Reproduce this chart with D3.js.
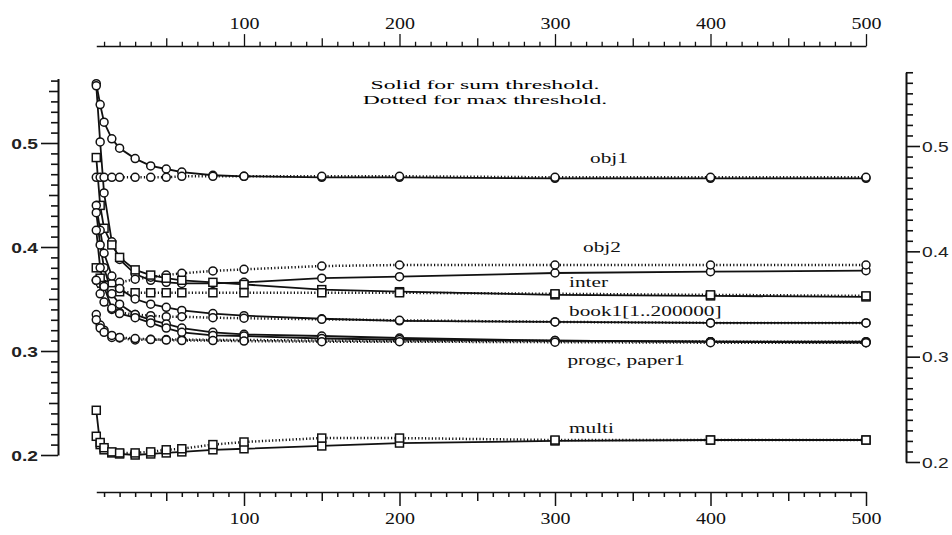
<!DOCTYPE html>
<html>
<head>
<meta charset="utf-8">
<script src="https://cdn.jsdelivr.net/npm/d3@7"></script>
<style>
  html, body { margin: 0; padding: 0; background: #fff; }
  svg { display: block; }
</style>
</head>
<body>
<svg id="chart" width="952" height="535"></svg>
<script>
// ---------------- data ----------------
const xValues = [5, 7.5, 10, 15, 20, 30, 40, 50, 60, 80, 100, 150, 200, 300, 400, 500];

const obj1Sum   = [0.557, 0.537, 0.520, 0.504, 0.495, 0.485, 0.478, 0.475, 0.472, 0.469, 0.468, 0.467, 0.467, 0.466, 0.466, 0.466];
const obj1Max   = [0.467, 0.467, 0.467, 0.467, 0.467, 0.467, 0.467, 0.467, 0.468, 0.468, 0.468, 0.468, 0.468, 0.467, 0.467, 0.467];
const obj2Sum   = [0.555, 0.501, 0.452, 0.405, 0.388, 0.374, 0.368, 0.366, 0.365, 0.365, 0.366, 0.370, 0.3715, 0.375, 0.3763, 0.3772];
const obj2Max   = [0.368, 0.365, 0.364, 0.365, 0.366, 0.369, 0.371, 0.373, 0.3747, 0.377, 0.3785, 0.3817, 0.3827, 0.3827, 0.3827, 0.3827];
const interSum  = [0.486, 0.440, 0.418, 0.402, 0.390, 0.378, 0.373, 0.370, 0.368, 0.366, 0.364, 0.359, 0.357, 0.354, 0.353, 0.352];
const interMax  = [0.380, 0.370, 0.363, 0.358, 0.357, 0.356, 0.356, 0.356, 0.356, 0.356, 0.356, 0.356, 0.356, 0.355, 0.354, 0.353];
const book1Sum  = [0.440, 0.416, 0.394, 0.372, 0.360, 0.350, 0.345, 0.342, 0.339, 0.336, 0.334, 0.331, 0.329, 0.328, 0.327, 0.327];
const book1Max  = [0.368, 0.355, 0.347, 0.340, 0.337, 0.335, 0.334, 0.333, 0.333, 0.332, 0.3315, 0.3305, 0.3295, 0.328, 0.327, 0.327];
const progcSum  = [0.433, 0.402, 0.380, 0.355, 0.345, 0.335, 0.330, 0.326, 0.322, 0.318, 0.316, 0.3144, 0.3125, 0.310, 0.309, 0.309];
const progcMax  = [0.335, 0.325, 0.320, 0.313, 0.3125, 0.3106, 0.3112, 0.311, 0.311, 0.3106, 0.3106, 0.310, 0.3095, 0.3095, 0.309, 0.309];
const paper1Sum = [0.416, 0.380, 0.362, 0.341, 0.336, 0.332, 0.327, 0.322, 0.318, 0.315, 0.3144, 0.312, 0.311, 0.310, 0.309, 0.308];
const paper1Max = [0.330, 0.322, 0.318, 0.315, 0.313, 0.312, 0.311, 0.3105, 0.310, 0.310, 0.3095, 0.309, 0.309, 0.3085, 0.308, 0.308];
const multiSum  = [0.243, 0.210, 0.205, 0.202, 0.201, 0.200, 0.201, 0.202, 0.203, 0.205, 0.206, 0.2087, 0.2115, 0.2135, 0.2144, 0.2144];
const multiMax  = [0.218, 0.212, 0.207, 0.203, 0.202, 0.202, 0.203, 0.205, 0.206, 0.210, 0.2125, 0.2163, 0.2163, 0.2144, 0.2144, 0.2144];

const seriesLabels = ["obj1", "obj2", "inter", "book1[1..200000]", "progc, paper1", "multi"];
const titleLines = ["Solid for sum threshold.", "Dotted for max threshold."];
const xTickLabels = [100, 200, 300, 400, 500];
const yTickLabels = [0.2, 0.3, 0.4, 0.5];

// label placement (layout, kept apart from the data)
const labelPlace = {
  x: [322.5, 318, 309, 309, 308, 309],
  y: [0.481, 0.395, 0.362, 0.334, 0.287, 0.221]
};

// table for drawing
const series = [
  {values: obj1Sum, dotted: false, marker: "circle"},
  {values: obj1Max, dotted: true, marker: "circle"},
  {values: obj2Sum, dotted: false, marker: "circle"},
  {values: obj2Max, dotted: true, marker: "circle"},
  {values: interSum, dotted: false, marker: "square"},
  {values: interMax, dotted: true, marker: "square"},
  {values: book1Sum, dotted: false, marker: "circle"},
  {values: book1Max, dotted: true, marker: "circle"},
  {values: progcSum, dotted: false, marker: "circle"},
  {values: progcMax, dotted: true, marker: "circle"},
  {values: paper1Sum, dotted: false, marker: "circle"},
  {values: paper1Max, dotted: true, marker: "circle"},
  {values: multiSum, dotted: false, marker: "square"},
  {values: multiMax, dotted: true, marker: "square"}
];

// ---------------- scales ----------------
const svg = d3.select("#chart");
const x = d3.scaleLinear().domain([0, 500]).range([88.5, 866]);
const y = d3.scaleLinear().domain([0.2, 0.5]).range([455, 143]);
const yR = d3.scaleLinear().domain([0.2, 0.5]).range([462, 146]);

const SERIF = "'Liberation Serif', 'Times New Roman', serif";
const SANS = "'Liberation Sans', Arial, sans-serif";

function stretch(sel, f) {
  sel.each(function () {
    const w = this.getComputedTextLength();
    d3.select(this).attr("textLength", w * f).attr("lengthAdjust", "spacingAndGlyphs");
  });
}

const near = (a, b) => Math.abs(a - b) < 1e-6;

// ---------------- x axes ----------------
const xAxisScale = x.copy().domain([5, 500]).range([x(5), x(500)]);
const xTicks = d3.range(10, 501, 10);
function xTickLen(v) { return v % 100 === 0 ? 14 : (v % 50 === 0 ? 9 : 5); }

const topAxis = svg.append("g").attr("transform", "translate(0,46)")
  .call(d3.axisTop(xAxisScale).tickValues(xTicks).tickSizeOuter(0)
    .tickFormat(d => xTickLabels.includes(d) ? d : ""));
topAxis.selectAll(".tick line").attr("y2", d => -xTickLen(d) * 0.85).attr("stroke-width", 1.3).attr("stroke", "#111");
topAxis.select(".domain").attr("stroke-width", 1.7).attr("stroke", "#111");
topAxis.selectAll(".tick text").attr("y", -17).attr("font-family", SERIF).attr("font-size", 16).attr("fill", "#111");

const botAxis = svg.append("g").attr("transform", "translate(0,492)")
  .call(d3.axisBottom(xAxisScale).tickValues(xTicks).tickSizeOuter(0)
    .tickFormat(d => xTickLabels.includes(d) ? d : ""));
botAxis.selectAll(".tick line").attr("y2", d => xTickLen(d)).attr("stroke-width", 1.5).attr("stroke", "#111");
botAxis.select(".domain").attr("stroke-width", 1.7).attr("stroke", "#111");
botAxis.selectAll(".tick text").attr("y", 21).attr("font-family", SERIF).attr("font-size", 16).attr("fill", "#111");

// ---------------- y axes ----------------
const yTicks = d3.range(20, 57).map(v => v / 100);
function yTickLen(v) {
  const k = Math.round(v * 100);
  return k % 10 === 0 ? 17 : (k % 5 === 0 ? 9 : 7);
}
const leftScale = y.copy().domain([0.2, 0.562]).range([y(0.2), y(0.562)]);
const leftAxis = svg.append("g").attr("transform", "translate(58,0)")
  .call(d3.axisLeft(leftScale).tickValues(yTicks).tickSizeOuter(0)
    .tickFormat(d => yTickLabels.some(t => near(t, d)) ? d3.format(".1f")(d) : ""));
leftAxis.selectAll(".tick line").attr("x2", d => -yTickLen(d)).attr("stroke-width", 1.6).attr("stroke", "#111");
leftAxis.select(".domain").attr("stroke-width", 2).attr("stroke", "#111");
leftAxis.selectAll(".tick text").attr("x", -20).attr("dy", "0.35em")
  .attr("font-family", SANS).attr("font-size", 15).attr("font-weight", "bold").attr("fill", "#222");

const rightScale = yR.copy().domain([0.2, 0.57]).range([yR(0.2), yR(0.57)]);
const rightAxis = svg.append("g").attr("transform", "translate(906,0)")
  .call(d3.axisRight(rightScale).tickValues(d3.range(20, 58).map(v => v / 100)).tickSizeOuter(0)
    .tickFormat(d => yTickLabels.some(t => near(t, d)) ? d3.format(".1f")(d) : ""));
rightAxis.selectAll(".tick line").attr("x2", d => Math.round(d * 100) % 10 === 0 ? 14 : 7).attr("stroke-width", 1.6).attr("stroke", "#111");
rightAxis.select(".domain").attr("stroke-width", 2).attr("stroke", "#111");
rightAxis.selectAll(".tick text").attr("x", 16).attr("dy", "0.35em")
  .attr("font-family", SANS).attr("font-size", 15).attr("fill", "#222");

[topAxis, botAxis].forEach(a => stretch(a.selectAll(".tick text").filter(function () { return this.textContent; }), 1.25));
[leftAxis, rightAxis].forEach(a => stretch(a.selectAll(".tick text").filter(function () { return this.textContent; }), 1.28));

// ---------------- series ----------------
const line = d3.line().x((d, i) => x(xValues[i])).y(d => y(d));
const plot = svg.append("g");

series.forEach(s => {
  plot.append("path")
    .attr("d", line(s.values))
    .attr("fill", "none")
    .attr("stroke", "#111")
    .attr("stroke-width", s.dotted ? 2.5 : 1.8)
    .attr("stroke-dasharray", s.dotted ? "1.2 2.2" : null);
});

series.forEach(s => {
  const g = plot.append("g");
  if (s.marker === "circle") {
    g.selectAll("circle").data(s.values).join("circle")
      .attr("cx", (d, i) => x(xValues[i])).attr("cy", d => y(d)).attr("r", 4)
      .attr("fill", "#fff").attr("stroke", "#111").attr("stroke-width", 1.5);
  } else {
    g.selectAll("rect").data(s.values).join("rect")
      .attr("x", (d, i) => x(xValues[i]) - 4).attr("y", d => y(d) - 4)
      .attr("width", 8).attr("height", 8)
      .attr("fill", "#fff").attr("stroke", "#111").attr("stroke-width", 1.5);
  }
});

// ---------------- labels ----------------
const labels = svg.append("g").selectAll("text").data(seriesLabels).join("text")
  .attr("x", (d, i) => x(labelPlace.x[i]))
  .attr("y", (d, i) => y(labelPlace.y[i]))
  .attr("font-family", SERIF).attr("font-size", 15).attr("fill", "#111")
  .text(d => d);
stretch(labels, 1.42);

const title = svg.append("g").selectAll("text").data(titleLines).join("text")
  .attr("x", 485).attr("y", (d, i) => 89 + i * 14.5)
  .attr("text-anchor", "middle")
  .attr("font-family", SERIF).attr("font-size", 13).attr("fill", "#000")
  .text(d => d);
stretch(title, 1.82);
</script>
</body>
</html>
